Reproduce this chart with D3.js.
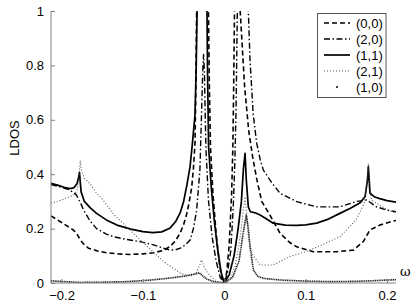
<!DOCTYPE html>
<head>
  <meta charset="utf-8">
  <script src="https://d3js.org/d3.v7.min.js"></script>
  <style>
    body { margin: 0; background: #fff; }
    text { font-family: "Liberation Sans", Arial, sans-serif; font-size: 13px; fill: #000; }
    .axis path, .axis line { stroke: #808080; }
    .curve { fill: none; stroke-linejoin: round; }
  </style>
</head>
<body>
<script>
// (1,1) solid
var w11 = [-0.213,-0.205,-0.197,-0.19,-0.185,-0.181,-0.179,-0.178,-0.177,-0.176,-0.172,-0.165,-0.157,-0.145,-0.132,-0.115,-0.1,-0.088,-0.077,-0.067,-0.06,-0.054,-0.05,-0.046,-0.042,-0.039,-0.036,-0.0345,-0.0335,-0.031,-0.0275,-0.024,-0.0213,-0.0205,-0.0193,-0.016,-0.012,-0.008,-0.004,0,0.006,0.012,0.017,0.021,0.0235,0.0255,0.027,0.0295,0.032,0.038,0.044,0.052,0.06,0.075,0.089,0.1,0.1135,0.128,0.142,0.155,0.167,0.173,0.176,0.177,0.178,0.179,0.185,0.191,0.2,0.211];
var ldos11 = [0.366,0.36,0.352,0.347,0.35,0.365,0.39,0.407,0.37,0.335,0.3,0.277,0.256,0.232,0.213,0.198,0.189,0.185,0.188,0.201,0.225,0.26,0.3,0.36,0.43,0.52,0.62,0.8,1.0,1.6,2.0,1.6,1.0,0.75,0.5,0.35,0.22,0.12,0.04,0,0.03,0.1,0.2,0.3,0.42,0.477,0.38,0.28,0.262,0.258,0.25,0.235,0.22,0.213,0.212,0.214,0.22,0.235,0.256,0.275,0.295,0.318,0.38,0.428,0.38,0.33,0.316,0.31,0.303,0.297];

// (0,0) dashed
var w00 = [-0.213,-0.205,-0.198,-0.1855,-0.181,-0.177,-0.172,-0.167,-0.155,-0.1445,-0.13,-0.116,-0.1,-0.087,-0.075,-0.0667,-0.06,-0.0544,-0.05,-0.046,-0.043,-0.04,-0.038,-0.036,-0.035,-0.034,-0.028,-0.0195,-0.0185,-0.017,-0.014,-0.01,-0.006,-0.003,0,0.003,0.006,0.009,0.0105,0.0115,0.0125,0.016,0.0195,0.025,0.03,0.035,0.04,0.046,0.056,0.0685,0.08,0.089,0.1094,0.138,0.1585,0.1708,0.179,0.1913,0.2077,0.211];
var ldos00 = [0.247,0.232,0.219,0.195,0.18,0.158,0.14,0.128,0.117,0.111,0.107,0.105,0.107,0.111,0.12,0.134,0.155,0.183,0.215,0.256,0.3,0.354,0.42,0.514,0.72,1.0,2.0,1.0,0.75,0.5,0.33,0.18,0.07,0.02,0,0.04,0.14,0.33,0.5,0.72,1.0,2.0,1.0,0.72,0.56,0.46,0.38,0.3,0.25,0.183,0.15,0.133,0.115,0.115,0.121,0.152,0.195,0.213,0.228,0.23];

// (2,0) dash-dot
var w20 = [-0.213,-0.2,-0.19,-0.182,-0.176,-0.173,-0.165,-0.157,-0.145,-0.136,-0.12,-0.1036,-0.087,-0.075,-0.0667,-0.06,-0.054,-0.048,-0.042,-0.038,-0.034,-0.03,-0.028,-0.0265,-0.0255,-0.0245,-0.0235,-0.0225,-0.0195,-0.015,-0.01,-0.005,0,0.004,0.008,0.011,0.013,0.0145,0.016,0.021,0.0295,0.0316,0.0355,0.0398,0.044,0.048,0.058,0.0685,0.089,0.1135,0.142,0.163,0.175,0.187,0.2,0.211];
var ldos20 = [0.362,0.352,0.342,0.325,0.29,0.268,0.228,0.2,0.18,0.17,0.16,0.152,0.14,0.128,0.121,0.122,0.128,0.14,0.158,0.2,0.268,0.415,0.62,0.78,0.84,0.78,0.62,0.49,0.305,0.17,0.08,0.02,0,0.04,0.12,0.28,0.45,0.65,1.0,1.8,1.0,0.82,0.62,0.514,0.455,0.415,0.37,0.33,0.299,0.28,0.28,0.3,0.305,0.28,0.268,0.262];

// (2,1) dotted
var w21 = [-0.213,-0.2,-0.19,-0.185,-0.181,-0.179,-0.177,-0.176,-0.172,-0.165,-0.157,-0.149,-0.136,-0.116,-0.095,-0.075,-0.054,-0.042,-0.035,-0.031,-0.028,-0.025,-0.02,-0.015,-0.008,0.002,0.008,0.013,0.017,0.02,0.023,0.0255,0.0275,0.0295,0.0337,0.044,0.06,0.08,0.1,0.12,0.142,0.162,0.172,0.175,0.177,0.179,0.181,0.19,0.2,0.211];
var ldos21 = [0.293,0.305,0.317,0.324,0.34,0.38,0.45,0.42,0.385,0.365,0.33,0.305,0.252,0.195,0.135,0.08,0.036,0.025,0.035,0.06,0.085,0.06,0.035,0.02,0.005,0,0.02,0.06,0.12,0.18,0.26,0.317,0.25,0.17,0.109,0.066,0.066,0.097,0.115,0.14,0.17,0.232,0.293,0.36,0.44,0.36,0.305,0.287,0.27,0.256];

// (1,0) points
var w10 = [-0.213,-0.19,-0.177,-0.15,-0.12,-0.09,-0.07,-0.05,-0.034,-0.031,-0.028,-0.022,-0.012,0,0.01,0.018,0.023,0.027,0.0295,0.0316,0.0357,0.041,0.048,0.0685,0.1,0.13,0.16,0.18,0.2,0.211];
var ldos10 = [0.008,0.004,0.002,0.003,0.005,0.011,0.017,0.025,0.034,0.038,0.03,0.015,0.004,0,0.02,0.08,0.18,0.25,0.2,0.133,0.048,0.025,0.017,0.011,0.007,0.005,0.006,0.008,0.011,0.012];

var legendLabels = ["(0,0)", "(2,0)", "(1,1)", "(2,1)", "(1,0)"];
var xTicks = [-0.2, -0.1, 0, 0.1, 0.2];
var yTicks = [0, 0.2, 0.4, 0.6, 0.8, 1];

var series = [
  { w: w00, v: ldos00, dash: "5,3", width: 1.6, color: "#000" },
  { w: w20, v: ldos20, dash: "6,2.5,1.5,2.5", width: 1.4, color: "#000" },
  { w: w11, v: ldos11, dash: null, width: 1.7, color: "#000" },
  { w: w21, v: ldos21, dash: "1,2", width: 1.1, color: "#555" },
  { w: w10, v: ldos10, dash: "1.2,0.6", width: 1.6, color: "#222" }
];

var W = 415, H = 303;
var pl = 51, pr = 396, pt = 11, pb = 283;

var svg = d3.select("body").append("svg")
  .attr("width", W)
  .attr("height", H);

var x = d3.scaleLinear().domain([-0.213, 0.211]).range([pl, pr]);
var y = d3.scaleLinear().domain([0, 1]).range([pb, pt]);

svg.append("defs").append("clipPath")
  .attr("id", "plotclip")
  .append("rect")
  .attr("x", pl).attr("y", pt)
  .attr("width", pr - pl).attr("height", pb - pt);

var line = d3.line()
  .x(function(d) { return x(d[0]); })
  .y(function(d) { return y(d[1]); });

svg.append("g")
  .attr("clip-path", "url(#plotclip)")
  .selectAll("path")
  .data(series)
  .enter().append("path")
  .attr("class", "curve")
  .attr("d", function(s) { return line(d3.zip(s.w, s.v)); })
  .attr("stroke", function(s) { return s.color; })
  .attr("stroke-width", function(s) { return s.width; })
  .attr("stroke-dasharray", function(s) { return s.dash; });

// axes, ticks inside
var xAxis = svg.append("g")
  .attr("class", "axis")
  .attr("transform", "translate(0," + pb + ")")
  .call(d3.axisBottom(x).tickValues(xTicks).tickSize(-4).tickSizeOuter(0).tickPadding(8)
    .tickFormat(function(d) { return d === 0 ? "0" : d3.format(".1f")(d).replace("-", "\u2212"); }));
xAxis.select(".domain").attr("d", "M" + pl + ",0H" + pr);
xAxis.selectAll("text").attr("dy", "0.72em").style("font-size", "13px");

var yAxis = svg.append("g")
  .attr("class", "axis")
  .attr("transform", "translate(" + pl + ",0)")
  .call(d3.axisLeft(y).tickValues(yTicks).tickSize(-4).tickSizeOuter(0).tickPadding(7)
    .tickFormat(function(d) { return d === 0 || d === 1 ? d3.format("d")(d) : d3.format(".1f")(d); }));
yAxis.select(".domain").attr("d", "M0," + pb + "V" + pt);
yAxis.selectAll("text").style("font-size", "13px");

svg.append("text")
  .attr("transform", "translate(19,138) rotate(-90)")
  .attr("text-anchor", "middle")
  .style("font-size", "13px")
  .text("LDOS");

svg.append("text")
  .attr("x", 400).attr("y", 276)
  .style("font-family", "'DejaVu Serif', serif")
  .style("font-size", "13px")
  .style("fill", "#000")
  .text("\u03c9");

// legend
var lg = svg.append("g");
lg.append("rect")
  .attr("x", 317.5).attr("y", 13.5)
  .attr("width", 68.5).attr("height", 84)
  .attr("fill", "#fff").attr("stroke", "#555");

var rows = lg.selectAll("g.row")
  .data(series)
  .enter().append("g")
  .attr("transform", function(d, i) { return "translate(0," + (23 + i * 16) + ")"; });

rows.filter(function(d, i) { return i < 4; }).append("line")
  .attr("x1", 324).attr("x2", 350)
  .attr("stroke", function(s) { return s.color; })
  .attr("stroke-width", function(s) { return s.width; })
  .attr("stroke-dasharray", function(s) { return s.dash; });
rows.filter(function(d, i) { return i === 4; }).append("circle")
  .attr("cx", 337).attr("cy", 0).attr("r", 1)
  .attr("fill", "#000");

rows.append("text")
  .attr("x", 356).attr("dy", "0.35em")
  .text(function(d, i) { return legendLabels[i]; });
</script>
</body>
